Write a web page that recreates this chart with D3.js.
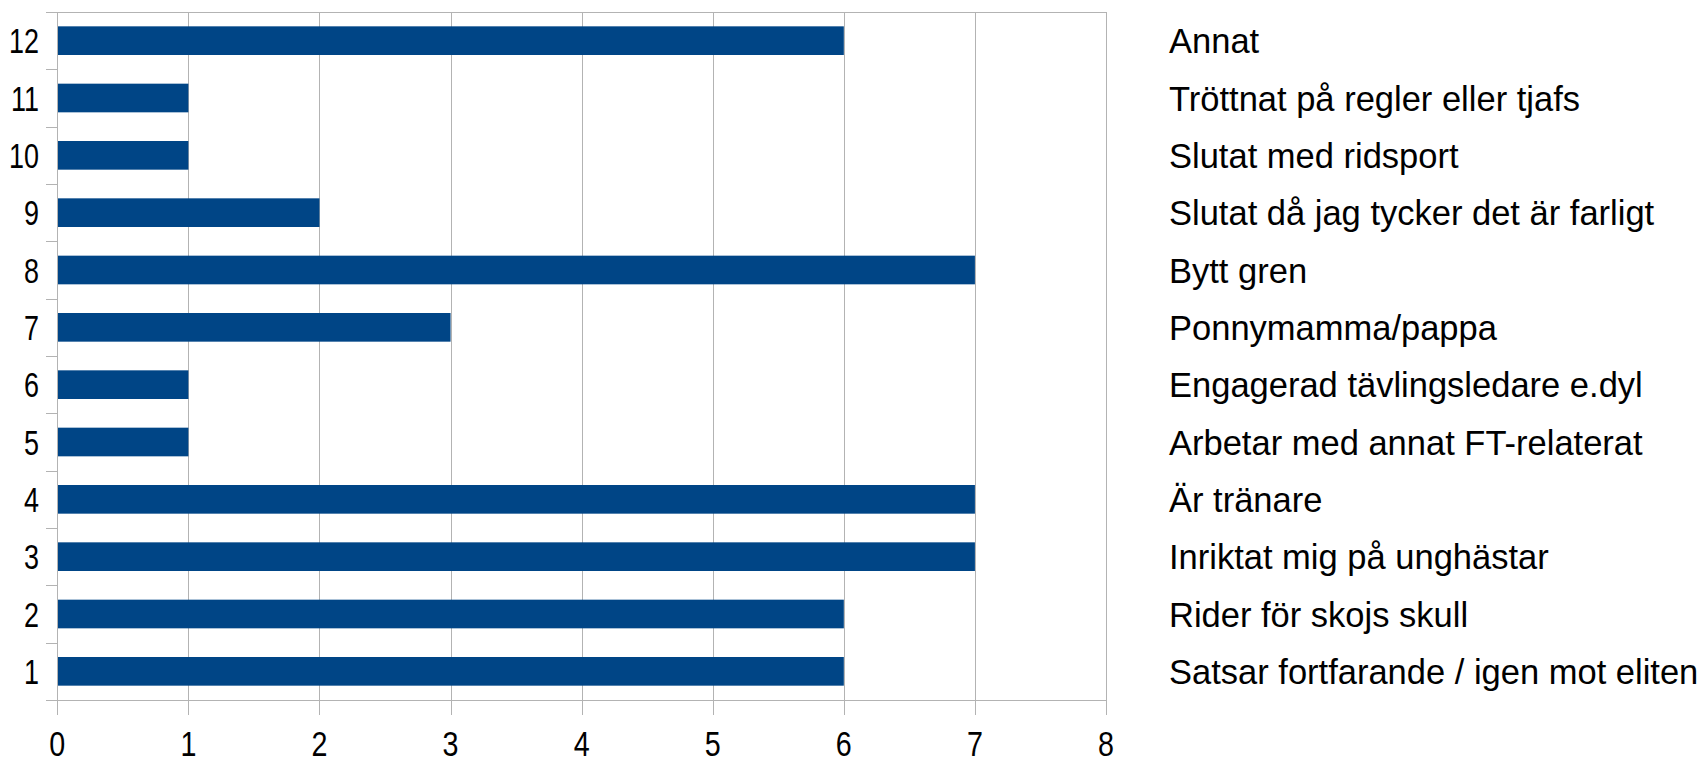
<!DOCTYPE html>
<html>
<head>
<meta charset="utf-8">
<script src="https://cdn.jsdelivr.net/npm/d3@7"></script>
<style>
html,body{margin:0;padding:0;background:#fff;}
svg{display:block;}
text{font-family:"Liberation Sans",Arial,sans-serif;fill:#000;}
</style>
</head>
<body>
<svg id="c" width="1704" height="763"></svg>
<script>
const categories = ["1","2","3","4","5","6","7","8","9","10","11","12"];
const labels = [
  "Satsar fortfarande / igen mot eliten",
  "Rider för skojs skull",
  "Inriktat mig på unghästar",
  "Är tränare",
  "Arbetar med annat FT-relaterat",
  "Engagerad tävlingsledare e.dyl",
  "Ponnymamma/pappa",
  "Bytt gren",
  "Slutat då jag tycker det är farligt",
  "Slutat med ridsport",
  "Tröttnat på regler eller tjafs",
  "Annat"
];
const values = [6,6,7,7,1,1,3,7,2,1,1,6];
const xTicks = [0,1,2,3,4,5,6,7,8];

(function(){
const svg = d3.select("#c");
const pLeft = 57.3, pRight = 1106, pTop = 12, pBottom = 700;
const grid = "#b3b3b3";

const x = d3.scaleLinear().domain([0,8]).range([pLeft,pRight]);
const y = d3.scaleBand().domain(categories.slice().reverse()).range([pTop,pBottom]).paddingInner(0.5).paddingOuter(0.25);

const snap = v => Math.round(v) + 0.5;

// vertical gridlines
svg.append("g").selectAll("line").data(xTicks.slice(1)).join("line")
  .attr("x1", d => snap(x(d))).attr("x2", d => snap(x(d)))
  .attr("y1", pTop).attr("y2", pBottom)
  .attr("stroke", grid).attr("stroke-width", 1);
// top border
svg.append("line").attr("x1", pLeft).attr("x2", pRight).attr("y1", snap(pTop)).attr("y2", snap(pTop))
  .attr("stroke", grid);

// bars
svg.append("g").selectAll("rect").data(categories).join("rect")
  .attr("x", x(0))
  .attr("y", (d) => y(d))
  .attr("width", (d,i) => x(values[i]) - x(0))
  .attr("height", y.bandwidth())
  .attr("fill", "#004586");

// left axis line
svg.append("line").attr("x1", snap(pLeft)).attr("x2", snap(pLeft)).attr("y1", pTop).attr("y2", pBottom+15)
  .attr("stroke", grid);
// left ticks at band boundaries
const bounds = d3.range(categories.length + 1).map(i => pTop + i * y.step());
svg.append("g").selectAll("line").data(bounds).join("line")
  .attr("x1", 46).attr("x2", pLeft)
  .attr("y1", d => snap(d)).attr("y2", d => snap(d))
  .attr("stroke", grid);
// bottom axis line
svg.append("line").attr("x1", 46).attr("x2", pRight).attr("y1", snap(pBottom)).attr("y2", snap(pBottom))
  .attr("stroke", grid);
// bottom ticks
svg.append("g").selectAll("line").data(xTicks).join("line")
  .attr("x1", d => snap(x(d))).attr("x2", d => snap(x(d)))
  .attr("y1", pBottom).attr("y2", pBottom + 15)
  .attr("stroke", grid);

// left category numbers
svg.append("g").selectAll("text").data(categories).join("text")
  .attr("transform", d => `translate(39,${y(d) + y.bandwidth()/2 + 12.5}) scale(0.77,1)`)
  .attr("text-anchor", "end")
  .attr("font-size", 35)
  .text(d => d);

// bottom tick labels
svg.append("g").selectAll("text").data(xTicks).join("text")
  .attr("transform", d => `translate(${x(d)},755.5) scale(0.82,1)`)
  .attr("text-anchor", "middle")
  .attr("font-size", 35)
  .text(d => d);

// right labels
svg.append("g").selectAll("text").data(categories).join("text")
  .attr("x", 1169)
  .attr("y", (d) => y(d) + y.bandwidth()/2 + 12.5)
  .attr("font-size", 34.5)
  .text((d,i) => labels[i]);
})();
</script>
</body>
</html>
